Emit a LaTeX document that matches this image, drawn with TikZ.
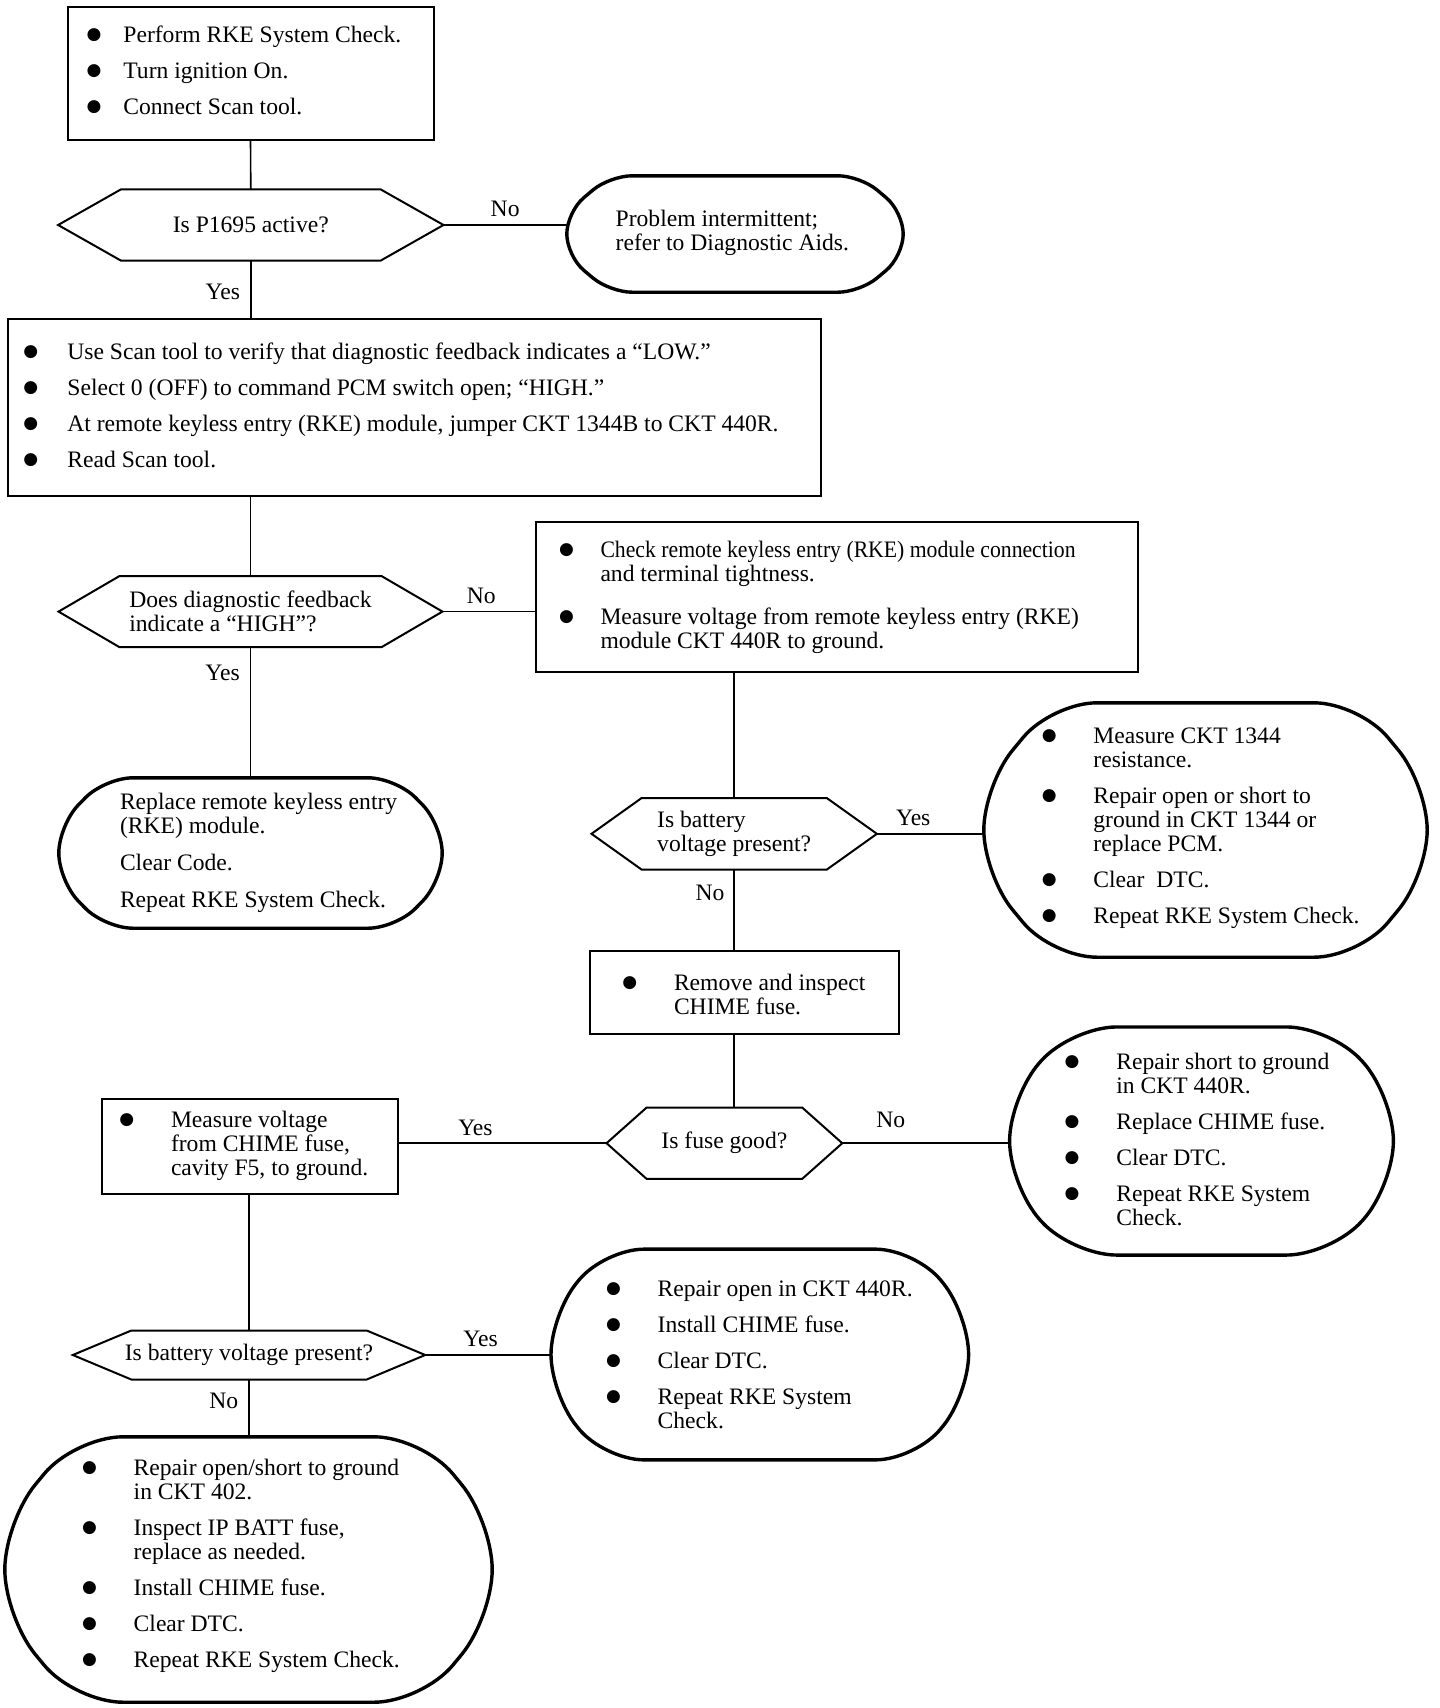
\documentclass[tikz,border=0pt]{standalone}
\usepackage{fontspec}
\setmainfont{Liberation Serif}
\newfontfamily\bulfont{DejaVu Sans}
\usepackage{graphicx}
\usepackage{tikz}
\usetikzlibrary{calc}

\newcommand{\bul}{\makebox[8.3pt]{\raisebox{3pt}{\bulfont\fontsize{17}{17}\selectfont ●}}}
\newcommand{\blist}[2]{\begin{tabular}[t]{@{}l@{\hspace{#1}}l@{}}#2\end{tabular}}
\newcommand{\plist}[1]{\begin{tabular}[t]{@{}l@{}}#1\end{tabular}}
% hexagon round a decision node: node, inset
\newcommand{\hexline}[2]{%
  \draw[decedge] (#1.west) -- ($(#1.north west)+(#2,0)$) -- ($(#1.north east)+(-#2,0)$)
    -- (#1.east) -- ($(#1.south east)+(-#2,0)$) -- ($(#1.south west)+(#2,0)$) -- cycle;}
% rounded ends round a terminal node: node, inset, radius
\newcommand{\termline}[3]{%
  \draw[termedge, rounded corners=#3pt] (#1.north) -- ($(#1.north east)+(-#2,0)$)
    -- ($(#1.east)+(0,-#3)$) -- ($(#1.east)+(0,#3)$)
    -- ($(#1.south east)+(-#2,0)$) -- ($(#1.south west)+(#2,0)$)
    -- ($(#1.west)+(0,#3)$) -- ($(#1.west)+(0,-#3)$)
    -- ($(#1.north west)+(#2,0)$) -- cycle;}

\begin{document}
\begin{tikzpicture}[x=1pt, y=-1pt,
  every node/.style={font=\fontsize{23.6}{24}\selectfont},
  box/.style={draw, line width=2pt, inner sep=0pt},
  dec/.style={inner sep=0pt, align=left},
  term/.style={inner sep=0pt},
  txt/.style={inner sep=0pt, anchor=base west},
  decedge/.style={line width=2pt, line join=miter},
  termedge/.style={line width=3.4pt},
  conn/.style={line width=1.6pt},
  lbl/.style={inner sep=3pt}]
  \path[use as bounding box, fill=white] (0,0) rectangle (1440,1708);

  % start box
  \node[box, minimum width=366pt, minimum height=133pt] (start) at (250.5,73) {};
  \node[txt] (start-txt) at (89.6,42) {\blist{25.3pt}{\bul & Perform RKE System Check.\\[12pt]
    \bul & Turn ignition On.\\[12pt]
    \bul & Connect Scan tool.}};

  % P1695 question
  \node[dec, minimum width=385pt, minimum height=71pt] (qcode) at (250.8,225) {Is P1695 active?};
  \hexline{qcode}{63}
  \node[term, minimum width=336pt, minimum height=116pt] (intermit) at (735,234) {};
  \termline{intermit}{43}{22}
  \node[txt] (intermit-txt) at (615.5,226) {\plist{Problem intermittent;\\refer to Diagnostic Aids.}};

  % jumper box
  \node[box, minimum width=813.7pt, minimum height=176.4pt] (jumper) at (414.5,407.4) {};
  \node[txt] (jumper-txt) at (26.4,359) {\blist{32.5pt}{\bul & Use Scan tool to verify that diagnostic feedback indicates a “LOW.”\\[12pt]
    \bul & Select 0 (OFF) to command PCM switch open; “HIGH.”\\[12pt]
    \bul & At remote keyless entry (RKE) module, jumper CKT 1344B to CKT 440R.\\[12pt]
    \bul & Read Scan tool.}};

  % HIGH question
  \node[dec, minimum width=383.5pt, minimum height=70.8pt] (qhigh) at (250.5,611.6) {Does diagnostic feedback\\indicate a “HIGH”?};
  \hexline{qhigh}{61}
  \node[term, minimum width=383pt, minimum height=150pt] (replrke) at (250.5,853) {};
  \termline{replrke}{46}{28}
  \node[txt] (replrke-txt) at (119.8,809) {\plist{Replace remote keyless entry\\(RKE) module.\\[13pt]
    Clear Code.\\[13pt]
    Repeat RKE System Check.}};

  % connection check box
  \node[box, minimum width=602.3pt, minimum height=150.3pt] (chkconn) at (837.2,597) {};
  \node[txt] (chkconn-txt) at (562.3,557) {\blist{29.7pt}{\bul & \scalebox{0.92}[1]{Check remote keyless entry (RKE) module connection}\\
    & and terminal tightness.\\[19.6pt]
    \bul & Measure voltage from remote keyless entry (RKE)\\
    & module CKT 440R to ground.}};

  % battery question, right branch
  \node[dec, minimum width=285pt, minimum height=71pt] (qbatt) at (734.2,833.8) {Is battery\\voltage present?};
  \hexline{qbatt}{50}
  \node[term, minimum width=443pt, minimum height=254pt] (repckt) at (1205.5,830) {};
  \termline{repckt}{68}{45}
  \node[txt] (repckt-txt) at (1044.9,743) {\blist{40pt}{\bul & Measure CKT 1344\\
    & resistance.\\[12pt]
    \bul & Repair open or short to\\
    & ground in CKT 1344 or\\
    & replace PCM.\\[12pt]
    \bul & Clear\ \ DTC.\\[12pt]
    \bul & Repeat RKE System Check.}};

  % fuse box
  \node[box, minimum width=308.3pt, minimum height=82.8pt] (fuse) at (744.5,992.4) {};
  \node[txt] (fuse-txt) at (625.5,990) {\blist{40pt}{\bul & Remove and inspect\\ & CHIME fuse.}};

  % fuse question
  \node[dec, minimum width=235.3pt, minimum height=70.8pt] (qfuse) at (724.4,1143.2) {Is fuse good?};
  \hexline{qfuse}{40}
  \node[term, minimum width=383.4pt, minimum height=227.7pt] (repshort) at (1201.5,1141) {};
  \termline{repshort}{62}{45}
  \node[txt] (repshort-txt) at (1067.8,1069) {\blist{40pt}{\bul & Repair short to ground\\
    & in CKT 440R.\\[12pt]
    \bul & Replace CHIME fuse.\\[12pt]
    \bul & Clear DTC.\\[12pt]
    \bul & Repeat RKE System\\
    & Check.}};

  % measure at fuse cavity
  \node[box, minimum width=295.5pt, minimum height=95.5pt] (measfuse) at (249.75,1146.25) {};
  \node[txt] (measfuse-txt) at (122.5,1127) {\blist{40pt}{\bul & Measure voltage\\
    & from CHIME fuse,\\
    & cavity F5, to ground.}};

  % battery question, left branch
  \node[dec, minimum width=352pt, minimum height=48.6pt] (qbattB) at (249,1355) {Is battery voltage present?};
  \hexline{qbattB}{58.5}
  \node[term, minimum width=417.2pt, minimum height=210.3pt] (repopen) at (759.8,1354.5) {};
  \termline{repopen}{53}{40}
  \node[txt] (repopen-txt) at (609.2,1296) {\blist{40pt}{\bul & Repair open in CKT 440R.\\[12pt]
    \bul & Install CHIME fuse.\\[12pt]
    \bul & Clear DTC.\\[12pt]
    \bul & Repeat RKE System\\
    & Check.}};
  \node[term, minimum width=487pt, minimum height=265pt] (repbatt) at (248.5,1569.5) {};
  \termline{repbatt}{70}{48}
  \node[txt] (repbatt-txt) at (85.2,1475) {\blist{40pt}{\bul & Repair open/short to ground\\
    & in CKT 402.\\[12pt]
    \bul & Inspect IP BATT fuse,\\
    & replace as needed.\\[12pt]
    \bul & Install CHIME fuse.\\[12pt]
    \bul & Clear DTC.\\[12pt]
    \bul & Repeat RKE System Check.}};

  % connectors
  \draw[conn] (start.south) -- (qcode.north);
  \draw[conn] (qcode.east) -- node[lbl, above=4pt] (no-a) {No} (qcode.east -| intermit.west);
  \draw[conn] (qcode.south) -- node[lbl, left=7pt, pos=0.55] (yes-a) {Yes} (qcode.south |- jumper.north);
  \draw[conn] (qhigh.north |- jumper.south) -- (qhigh.north);
  \draw[conn] (qhigh.east) -- node[lbl, above=4pt, pos=0.42] (no-b) {No} (qhigh.east -| chkconn.west);
  \draw[conn] (qhigh.south) -- node[lbl, left=7pt, pos=0.2] (yes-b) {Yes} (qhigh.south |- replrke.north);
  \draw[conn] (qbatt.north |- chkconn.south) -- (qbatt.north);
  \draw[conn] (qbatt.east) -- node[lbl, above=4pt, pos=0.34] (yes-c) {Yes} (qbatt.east -| repckt.west);
  \draw[conn] (qbatt.south) -- node[lbl, left=6pt, pos=0.29] (no-c) {No} (qbatt.south |- fuse.north);
  \draw[conn] (fuse.south -| qbatt.south) -- (qfuse.north -| qbatt.south);
  \draw[conn] (qfuse.east) -- node[lbl, above=12pt, pos=0.29] (no-d) {No} (qfuse.east -| repshort.west);
  \draw[conn] (qfuse.west) -- node[lbl, above=4pt, pos=0.63] (yes-d) {Yes} (qfuse.west -| measfuse.east);
  \draw[conn] (qbattB.north |- measfuse.south) -- (qbattB.north);
  \draw[conn] (qbattB.east) -- node[lbl, above=4pt, pos=0.44] (yes-e) {Yes} (qbattB.east -| repopen.west);
  \draw[conn] (qbattB.south) -- node[lbl, left=7pt, pos=0.37] (no-e) {No} (qbattB.south |- repbatt.north);
\end{tikzpicture}
\end{document}
